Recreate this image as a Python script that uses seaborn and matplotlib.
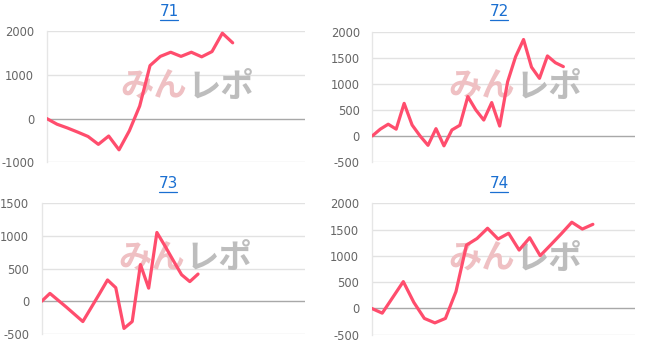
import matplotlib
matplotlib.use("Agg")
import matplotlib.pyplot as plt
from matplotlib.lines import Line2D
import seaborn as sns
import pandas as pd

# ---- data ----
titles = ["71", "72", "73", "74"]
s71 = [0, -130, -215, -310, -410, -590, -400, -715, -280, 285, 1210, 1420, 1515, 1420, 1515, 1410, 1530, 1950, 1730]
s72 = [0, 130, 225, 130, 625, 210, 0, -180, 140, -190, 115, 205, 755, 500, 305, 640, 190, 1040, 1520, 1850, 1320, 1105, 1535, 1405, 1330]
s73 = [0, 120, 15, -90, -200, -310, -100, 110, 325, 207, -415, -310, 560, 200, 1050, 840, 620, 405, 300, 415]
s74 = [0, -90, 210, 510, 115, -190, -275, -190, 320, 1205, 1330, 1525, 1320, 1430, 1110, 1345, 1003, 1210, 1420, 1640, 1510, 1600]
series = [s71, s72, s73, s74]
yticks = [[-1000, 0, 1000, 2000],
          [-500, 0, 500, 1000, 1500, 2000],
          [-500, 0, 500, 1000, 1500],
          [-500, 0, 500, 1000, 1500, 2000]]
xmax = [25, 33, 32, 25]

sns.set_theme(style="white")
plt.rcParams['font.family'] = ['DejaVu Sans', 'Noto Sans CJK JP']

W, H = 645, 346
fig = plt.figure(figsize=(W / 100, H / 100), dpi=100)

# pixel boxes: left, right, top, bottom
boxes = [(46.7, 305, 31, 162.3),
         (372.3, 635, 31.7, 162),
         (41.7, 305, 203, 334),
         (371.7, 635, 203.3, 334.7)]
title_pos = [(169, 12), (499, 12), (168, 184), (499, 184)]

line_color = "#ff4d6d"
title_color = "#1a6fd1"
for i in range(4):
    l, r, t, b = boxes[i]
    ax = fig.add_axes([l / W, (H - b) / H, (r - l) / W, (b - t) / H])
    df = pd.DataFrame({"x": list(range(len(series[i]))), "y": series[i]})
    sns.lineplot(data=df, x="x", y="y", ax=ax, color=line_color, linewidth=2.3, zorder=5)
    ax.set_xlim(0, xmax[i])
    ax.set_ylim(yticks[i][0], yticks[i][-1])
    ax.set_yticks(yticks[i])
    ax.set_yticklabels([str(v) for v in yticks[i]], color="#666666", fontsize=8.3)
    ax.set_xticks([])
    ax.set_xlabel("")
    ax.set_ylabel("")
    for v in yticks[i]:
        if v == 0:
            ax.axhline(v, color="#a8a8a8", linewidth=1.0, zorder=2)
        else:
            ax.axhline(v, color="#e2e2e2", linewidth=1.0, zorder=1)
    for sp in ["top", "right", "bottom"]:
        ax.spines[sp].set_visible(False)
    ax.spines["left"].set_color("#e6e6e6")
    ax.spines["left"].set_linewidth(1.0)
    ax.tick_params(axis="y", length=8, color="#e2e2e2", width=1.0, pad=1)
    ax.patch.set_alpha(0)
    # watermark
    ax.text(0.545, 0.573, "みん", transform=ax.transAxes, ha="right", va="center",
            fontsize=24, fontweight="bold", color="#efc0c3", family=["Noto Sans CJK JP"], zorder=3)
    ax.text(0.545, 0.573, "レポ", transform=ax.transAxes, ha="left", va="center",
            fontsize=24, fontweight="bold", color="#bdbdbd", family=["Noto Sans CJK JP"], zorder=3)
    tx, ty = title_pos[i]
    fig.text(tx / W, (H - ty) / H, titles[i], ha="center", va="center",
             fontsize=11, color=title_color)
    uy = (H - (ty + 8)) / H
    fig.add_artist(Line2D([(tx - 9) / W, (tx + 9) / W], [uy, uy], color=title_color, linewidth=0.9))

fig.savefig("out.png", dpi=100)
